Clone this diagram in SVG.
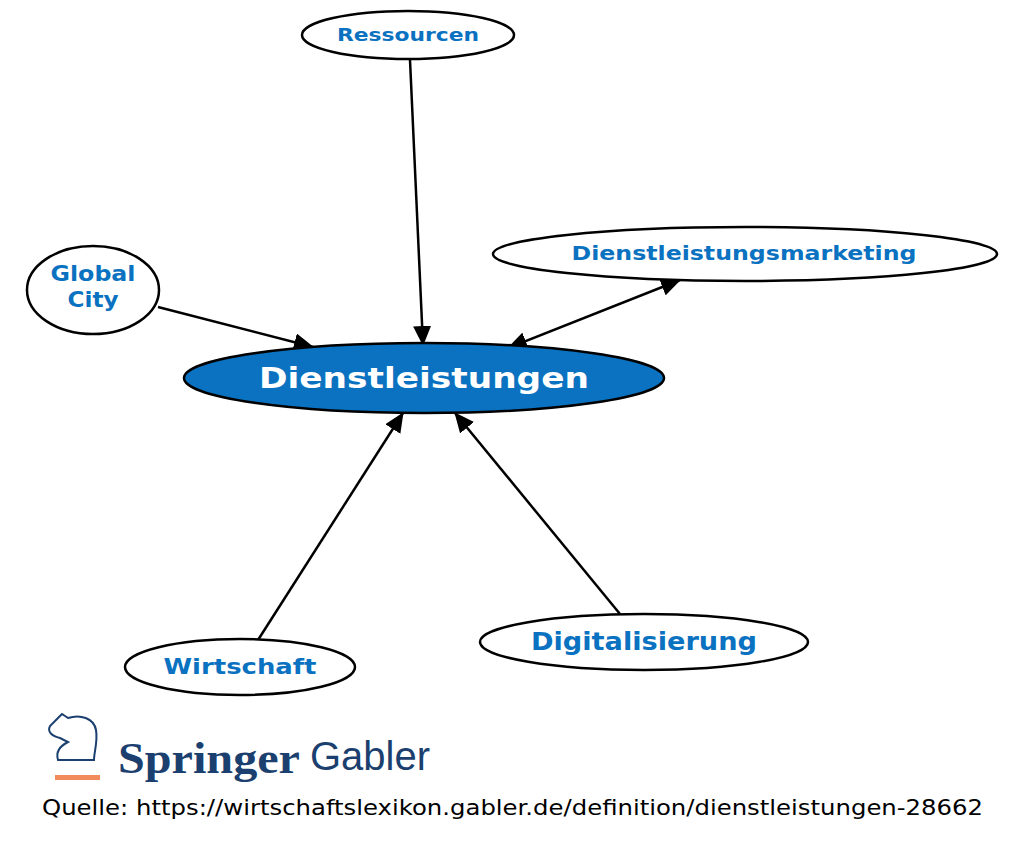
<svg xmlns="http://www.w3.org/2000/svg" width="1024" height="851" viewBox="0 0 1024 851">
<style>
.n{fill:#fff;stroke:#000;stroke-width:2.5}
.t{font-family:"DejaVu Sans",sans-serif;font-weight:bold;fill:#0a72c0;text-anchor:middle}
.e{stroke:#000;stroke-width:2.5;fill:none}
</style>
<defs>
<marker id="a" markerUnits="userSpaceOnUse" markerWidth="20" markerHeight="18" refX="19" refY="9" orient="auto-start-reverse"><path d="M0,0 L20,9 L0,18 Z" fill="#000"/></marker>
</defs>
<rect width="1024" height="851" fill="#fff"/>
<g id="edges">
<line class="e" x1="410" y1="60" x2="423" y2="345" marker-end="url(#a)"/>
<line class="e" x1="158" y1="307" x2="313" y2="347" marker-end="url(#a)"/>
<line class="e" x1="680" y1="280" x2="508" y2="348" marker-start="url(#a)" marker-end="url(#a)"/>
<line class="e" x1="258" y1="640" x2="403" y2="413" marker-end="url(#a)"/>
<line class="e" x1="620" y1="614" x2="455" y2="413" marker-end="url(#a)"/>
</g>
<g id="ressourcen"><ellipse class="n" cx="408" cy="35" rx="106" ry="24"/><text class="t" x="408" y="41" font-size="18" textLength="142" lengthAdjust="spacingAndGlyphs">Ressourcen</text></g>
<g id="dlm"><ellipse class="n" cx="745" cy="254" rx="252" ry="27"/><text class="t" x="744" y="260" font-size="19" textLength="345" lengthAdjust="spacingAndGlyphs">Dienstleistungsmarketing</text></g>
<g id="global"><ellipse class="n" cx="93" cy="290" rx="66" ry="44"/><text class="t" x="93" y="281" font-size="21" textLength="85" lengthAdjust="spacingAndGlyphs">Global</text><text class="t" x="93" y="307" font-size="21" textLength="51" lengthAdjust="spacingAndGlyphs">City</text></g>
<g id="dl"><ellipse cx="424" cy="378" rx="240" ry="35" fill="#0a72c0" stroke="#000" stroke-width="2.5"/><text class="t" x="424" y="388" font-size="29" textLength="330" lengthAdjust="spacingAndGlyphs" style="fill:#fff">Dienstleistungen</text></g>
<g id="wirtschaft"><ellipse class="n" cx="240" cy="667" rx="115" ry="28"/><text class="t" x="240" y="674" font-size="22" textLength="153" lengthAdjust="spacingAndGlyphs">Wirtschaft</text></g>
<g id="digital"><ellipse class="n" cx="644" cy="642" rx="164" ry="28"/><text class="t" x="644" y="650" font-size="24" textLength="226" lengthAdjust="spacingAndGlyphs">Digitalisierung</text></g>
<g id="logo">
<path d="M58,760 C55,750 62,745 68,742 L60,738 C52,736 47,732 50,726 L58,718 L62,714 L68,718 C80,714 94,718 96,730 C98,742 94,752 94,760 Z" fill="none" stroke="#1b3f6e" stroke-width="2"/>
<rect x="55" y="775" width="45" height="5" fill="#f28c5c"/>
<text x="118" y="773" font-family="Liberation Serif,serif" font-weight="bold" font-size="44" fill="#1b3f6e" textLength="182" lengthAdjust="spacingAndGlyphs">Springer</text>
<text x="310" y="770" font-family="Liberation Sans,sans-serif" font-size="40" fill="#1b3f6e" textLength="120" lengthAdjust="spacingAndGlyphs">Gabler</text>
</g>
<text x="42" y="815" font-family="DejaVu Sans,sans-serif" font-size="21" fill="#000" textLength="941" lengthAdjust="spacingAndGlyphs">Quelle: https://wirtschaftslexikon.gabler.de/definition/dienstleistungen-28662</text>
</svg>
